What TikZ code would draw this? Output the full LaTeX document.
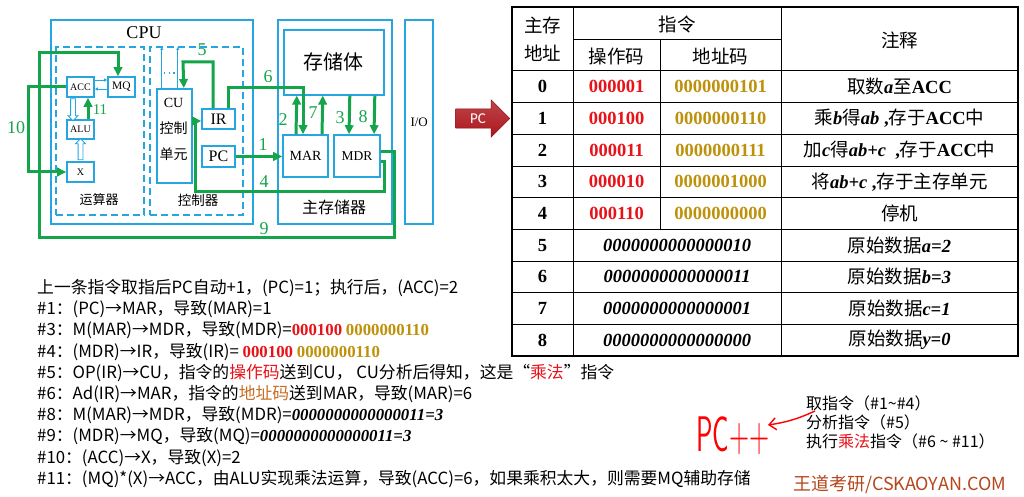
\documentclass[tikz,border=0pt]{standalone}
\usepackage{fontspec}
\setmainfont{Liberation Serif}
\newfontfamily\cjk{Noto Sans CJK SC}
\newfontfamily\cali{Carlito}
\usetikzlibrary{arrows.meta,calc,positioning,shapes.arrows}

\definecolor{cpublue}{RGB}{38,166,224}
\definecolor{flowgreen}{RGB}{20,165,75}
\definecolor{opred}{RGB}{232,18,24}
\definecolor{adgold}{RGB}{190,145,10}
\definecolor{adorange}{RGB}{200,110,35}
\definecolor{pcred}{RGB}{172,22,28}
\definecolor{markbrown}{RGB}{182,70,28}

\newcommand{\fsz}[1]{\fontsize{#1}{#1}\selectfont}
\newcommand{\zhtext}[1]{{\cjk\mdseries #1}}
\newcommand{\vbit}[1]{{\rmfamily\bfseries\itshape #1}}
\newcommand{\opcode}[1]{{\rmfamily\bfseries\color{opred}#1}}
\newcommand{\adcode}[1]{{\rmfamily\bfseries\color{adgold}#1}}

\tikzset{
    unit-box/.style = {draw=cpublue, line width=2.4pt, rectangle, inner sep=0pt, anchor=north west},
    part-box/.style = {draw=cpublue, line width=1.6pt, dash pattern=on 7pt off 4pt, rectangle, inner sep=0pt, anchor=north west},
    reg-box/.style = {draw=cpublue, line width=1.6pt, rectangle, inner sep=0pt, minimum width=27pt, minimum height=20pt, font=\fsz{10}},
    flow/.style = {draw=flowgreen, line width=3pt, -{Triangle[length=9pt, width=8.5pt]}},
    flow-no/.style = {text=flowgreen, font=\fsz{18}},
    thin-link/.style = {draw=cpublue, line width=0.8pt, -{Triangle[length=3pt, width=3pt]}},
    hollow-arrow/.style = {single arrow, draw=cpublue, line width=0.8pt, fill=white, inner sep=2pt, single arrow head extend=2.5pt, minimum height=22pt},
    pc-pointer/.style = {single arrow, top color=pcred!80, bottom color=pcred, draw=pcred!80!black, text=white, font=\cali\fsz{15}, inner sep=4.5pt, single arrow head extend=9pt, minimum height=54pt},
    cell/.style = {font=\bfseries\fsz{18.5}},
    head-cell/.style = {font=\cjk\fontsize{18.5}{28}\selectfont, align=center},
    step-line/.style = {anchor=west, inner sep=0pt, font=\cjk\fsz{16.8}},
    side-note/.style = {anchor=west, inner sep=0pt, font=\cjk\fsz{16}},
}

\begin{document}
\begin{tikzpicture}[x=1pt, y=-1pt]
\fill[white] (0,0) rectangle (1024,497);
\useasboundingbox (0,0) rectangle (1024,497);

% CPU, memory, I/O
\node[unit-box, minimum width=202pt, minimum height=204pt] (cpu) at (50,19) {};
\node[unit-box, minimum width=114pt, minimum height=204pt] (mem) at (277,19) {};
\node[unit-box, minimum width=28pt, minimum height=204pt, font=\fsz{13}] (io) at (404,19) {I/O};
\node[unit-box, line width=1.6pt, minimum width=100pt, minimum height=65pt, font=\cjk\fsz{20}] (bank) at (283,29) {存储体};
\node[part-box, minimum width=88pt, minimum height=168pt] (alu-part) at (55,46) {};
\node[part-box, minimum width=93pt, minimum height=168pt] (ctl-part) at (149,46) {};
\node[font=\fsz{18}] (cpu-title) at (144,33) {CPU};
\node[font=\cjk\fsz{13}] (alu-title) at (99,200) {运算器};
\node[font=\cjk\fsz{13.5}] (ctl-title) at (198,200) {控制器};
\node[font=\cjk\fsz{16}] (mem-title) at (334,207) {主存储器};

% registers
\node[reg-box] (acc) at (80.5,87) {ACC};
\node[reg-box, font=\fsz{11.5}] (mq) at (121.5,87) {MQ};
\node[reg-box, minimum height=19pt] (alu) at (80.5,129.5) {ALU};
\node[reg-box] (x) at (80.5,172) {X};
\node[reg-box, anchor=north west, minimum width=35pt, minimum height=94pt] (cu) at (156,88) {};
\node[font=\fontsize{14}{26}\selectfont, align=center] (cu-title) at (173.5,129) {CU\\\cjk 控制\\\cjk 单元};
\node[reg-box, minimum width=33pt, font=\fsz{16}] (ir) at (218.5,119) {IR};
\node[reg-box, minimum width=33pt, minimum height=21pt, font=\fsz{16}] (pc) at (218.5,156.5) {PC};
\node[reg-box, minimum width=45pt, minimum height=42pt, font=\fsz{14}] (mar) at (305.5,156) {MAR};
\node[reg-box, minimum width=46pt, minimum height=42pt, font=\fsz{13.5}] (mdr) at (357,156) {MDR};

% inner links
\draw[thin-link] ([yshift=7pt]acc.east) -- ([yshift=7pt]mq.west);
\draw[thin-link] ([yshift=-2pt]mq.west) -- ([yshift=-2pt]acc.east);
\draw[thin-link] ([xshift=-12.5pt]cu.north) -- ++(0,-41);
\draw[thin-link] ([xshift=3.5pt]cu.north) -- ++(0,-41);
\draw[cpublue, line width=1.2pt, dash pattern=on 1.2pt off 3.5pt] (164,73) -- (176,73);
\node[hollow-arrow, rotate=-90] (acc-alu) at ($(acc.south)!0.5!(alu.north)+(-7.5,0)$) {};
\node[hollow-arrow, rotate=90, minimum height=21pt] (x-alu) at ($(x.north)!0.5!(alu.south)$) {};

% data flow of the instruction
\draw[flow] (pc.east) -- (pc.east -| mar.west);
\draw[flow] ([xshift=-9.5pt]mar.north) -- ([xshift=-37pt]bank.south);
\draw[flow] ([xshift=16pt]bank.south) -- ([xshift=-8pt]mdr.north);
\draw[flow] ([yshift=-6pt]mdr.east) -| (384,191) -| (195,121) -- ([yshift=-2pt]ir.west);
\draw[flow] ([xshift=-5.5pt]ir.north) |- (183,62) -- ([xshift=9.5pt]cu.north);
\draw[flow] ([xshift=9.5pt]ir.north) |- (303,88) -- ([xshift=-2.5pt]mar.north);
\draw[flow] ([xshift=16.5pt]mar.north) -- ([xshift=-11pt]bank.south);
\draw[flow] ([xshift=41pt]bank.south) -- ([xshift=17pt]mdr.north);
\draw[flow] ([yshift=4pt]mdr.east) -| (394,237) -| (39,53) -| ([xshift=-3.5pt]mq.north);
\draw[flow] (acc.west) -- ++(-38,0) |- (x.west);
\draw[flow] ([xshift=7.5pt]alu.north) -- ([xshift=7.5pt]acc.south);
\foreach \no/\px/\py in {1/263/145, 2/283/120, 3/340/118, 4/264/182, 5/202/50, 6/268/77, 7/313/113, 8/363/117, 9/264/229, 10/16/128}
    \node[flow-no] (no-\no) at (\px,\py) {\no};
\node[flow-no, font=\fsz{15}] (no-11) at (100,110) {11};

% program in main memory
\draw[line width=2pt] (512,7) rectangle (1018,356);
\foreach \k in {0,...,8}
    \draw[line width=1pt] (512,{71+31.67*\k}) -- (1018,{71+31.67*\k});
\draw[line width=1pt] (573,7) -- (573,356);
\draw[line width=1pt] (781,7) -- (781,356);
\draw[line width=1pt] (573,40) -- (781,40);
\draw[line width=1pt] (660,40) -- (660,229.3);
\node[head-cell] (h-addr) at (542.5,39) {主存\\地址};
\node[head-cell] (h-inst) at (677,24) {指令};
\node[head-cell] (h-op) at (616.5,56) {操作码};
\node[head-cell] (h-ad) at (720.5,56) {地址码};
\node[head-cell] (h-note) at (899.5,40) {注释};
\foreach \n/\opc/\adc/\note in {
    0/000001/0000000101/{\zhtext{取数}\vbit{a}\zhtext{至}ACC},
    1/000100/0000000110/{\zhtext{乘}\vbit{b}\zhtext{得}\vbit{ab} ,\zhtext{存于}ACC\zhtext{中}},
    2/000011/0000000111/{\zhtext{加}\vbit{c}\zhtext{得}\vbit{ab+c}\ \ ,\zhtext{存于}ACC\zhtext{中}},
    3/000010/0000001000/{\zhtext{将}\vbit{ab+c} ,\zhtext{存于主存单元}},
    4/000110/0000000000/{\zhtext{停机}}}
{
    \node[cell] (row-\n) at (542.5,{71+31.67*(\n+0.5)}) {\n};
    \node[cell] (op-\n) at (616.5,{71+31.67*(\n+0.5)}) {\opcode{\opc}};
    \node[cell] (ad-\n) at (720.5,{71+31.67*(\n+0.5)}) {\adcode{\adc}};
    \node[cell] (note-\n) at (899.5,{71+31.67*(\n+0.5)}) {\note};
}
\foreach \n/\word/\note in {
    5/0000000000000010/{\vbit{a=2}},
    6/0000000000000011/{\vbit{b=3}},
    7/0000000000000001/{\vbit{c=1}},
    8/0000000000000000/{\vbit{y=0}}}
{
    \node[cell] (row-\n) at (542.5,{71+31.67*(\n+0.5)}) {\n};
    \node[cell] (word-\n) at (677,{71+31.67*(\n+0.5)}) {\vbit{\word}};
    \node[cell] (note-\n) at (899.5,{71+31.67*(\n+0.5)}) {\zhtext{原始数据}\note};
}
\node[pc-pointer, anchor=tip] (pc-ptr) at (510,118.5) {PC};

% steps of the instruction
\foreach \txt [count=\i from 0] in {
    {上一条指令取指后PC自动+1，(PC)=1；执行后，(ACC)=2},
    {\#1：(PC)→MAR，导致(MAR)=1},
    {\#3：M(MAR)→MDR，导致(MDR)=\opcode{000100} \adcode{0000000110}},
    {\#4：(MDR)→IR，导致(IR)= \opcode{000100} \adcode{0000000110}},
    {\#5：OP(IR)→CU，指令的\textcolor{opred}{操作码}送到CU， CU分析后得知，这是“\textcolor{opred}{乘法}”指令},
    {\#6：Ad(IR)→MAR，指令的\textcolor{adorange}{地址码}送到MAR，导致(MAR)=6},
    {\#8：M(MAR)→MDR，导致(MDR)=\vbit{0000000000000011=3}},
    {\#9：(MDR)→MQ，导致(MQ)=\vbit{0000000000000011=3}},
    {\#10：(ACC)→X，导致(X)=2},
    {\#11：(MQ)*(X)→ACC，由ALU实现乘法运算，导致(ACC)=6，如果乘积太大，则需要MQ辅助存储}}
    \node[step-line] (line-\i) at (37,{288+21.2*\i}) {\txt};

% phases
\node[side-note] (fetch) at (806,403) {取指令（\#1\textasciitilde\#4）};
\node[side-note] (decode) at (806,422) {分析指令（\#5）};
\node[side-note] (execute) at (806,441) {执行\textcolor{opred}{乘法}指令（\#6 \textasciitilde{} \#11）};
\node[text=red, font=\sffamily\fsz{50}, xscale=0.55, inner sep=0pt] (pc-inc) at (733,436) {PC++};
\coordinate (hand-tip) at (768,425);
\draw[red, line width=1.4pt, -{Straight Barb[length=7pt, width=12pt]}] ([xshift=9pt,yshift=-8pt]fetch.west) to[bend left=8] (hand-tip);
\node[anchor=west, inner sep=0pt, text=markbrown, font=\cjk\fsz{18}] (brand) at (793,485) {王道考研/CSKAOYAN.COM};
\end{tikzpicture}
\end{document}
